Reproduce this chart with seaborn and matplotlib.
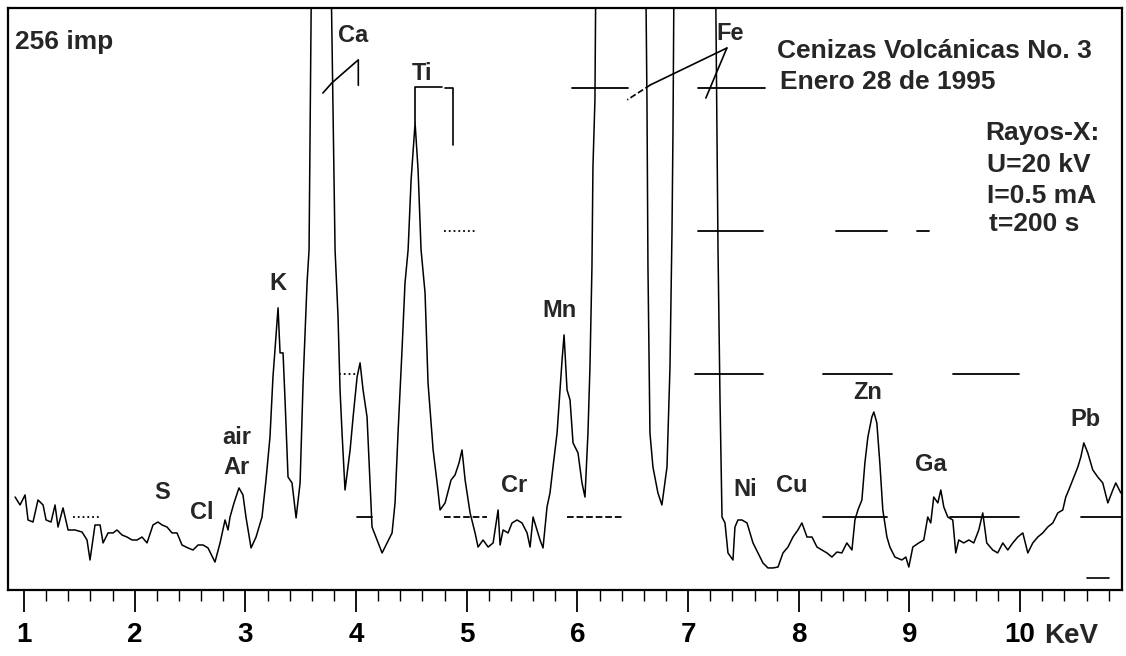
import matplotlib
matplotlib.use("Agg")
import matplotlib.pyplot as plt
from matplotlib.ticker import MultipleLocator
import pandas as pd
import seaborn as sns

# spectrum: energy (keV) and counts (0..256 full scale)
energy_kev = [
    0.919, 0.964, 1.009, 1.036, 1.081, 1.126, 1.172, 1.199, 1.244, 1.280,
    1.307, 1.352, 1.398, 1.461, 1.524, 1.569, 1.596, 1.641, 1.687, 1.714,
    1.759, 1.804, 1.840, 1.885, 1.930, 1.976, 2.021, 2.066, 2.111, 2.165,
    2.210, 2.247, 2.292, 2.337, 2.382, 2.427, 2.481, 2.527, 2.572, 2.617,
    2.662, 2.725, 2.771, 2.816, 2.843, 2.861, 2.897, 2.942, 2.978, 3.005,
    3.051, 3.096, 3.150, 3.186, 3.222, 3.249, 3.267, 3.295, 3.313, 3.340,
    3.358, 3.385, 3.421, 3.458, 3.494, 3.521, 3.557, 3.575, 3.602, 3.675,
    3.765, 3.810, 3.837, 3.855, 3.873, 3.900, 3.946, 3.973, 4.009, 4.036,
    4.063, 4.099, 4.126, 4.144, 4.190, 4.235, 4.280, 4.325, 4.352, 4.379,
    4.415, 4.442, 4.470, 4.497, 4.533, 4.560, 4.587, 4.623, 4.650, 4.696,
    4.732, 4.759, 4.804, 4.858, 4.894, 4.930, 4.957, 4.985, 5.030, 5.075,
    5.102, 5.147, 5.193, 5.238, 5.283, 5.301, 5.328, 5.373, 5.409, 5.454,
    5.499, 5.545, 5.572, 5.599, 5.635, 5.662, 5.689, 5.725, 5.752, 5.779,
    5.816, 5.843, 5.861, 5.879, 5.906, 5.933, 5.960, 6.005, 6.041, 6.068,
    6.095, 6.113, 6.131, 6.140, 6.158, 6.185, 6.294, 6.475, 6.592, 6.628,
    6.637, 6.655, 6.682, 6.727, 6.763, 6.809, 6.836, 6.854, 6.863, 6.890,
    7.062, 7.224, 7.270, 7.288, 7.306, 7.333, 7.360, 7.405, 7.423, 7.450,
    7.486, 7.532, 7.559, 7.586, 7.631, 7.676, 7.721, 7.767, 7.812, 7.857,
    7.902, 7.947, 7.992, 8.028, 8.074, 8.119, 8.164, 8.209, 8.254, 8.299,
    8.344, 8.389, 8.434, 8.480, 8.507, 8.534, 8.570, 8.597, 8.624, 8.660,
    8.678, 8.705, 8.732, 8.759, 8.796, 8.823, 8.868, 8.931, 8.967, 8.994,
    9.030, 9.084, 9.129, 9.165, 9.192, 9.219, 9.256, 9.283, 9.310, 9.346,
    9.391, 9.418, 9.445, 9.490, 9.536, 9.581, 9.626, 9.662, 9.698, 9.752,
    9.797, 9.843, 9.888, 9.933, 9.978, 10.024, 10.069, 10.114, 10.159, 10.204,
    10.249, 10.295, 10.340, 10.385, 10.412, 10.439, 10.475, 10.521, 10.548, 10.575,
    10.611, 10.656, 10.701, 10.746, 10.792, 10.837, 10.864, 10.909,
]
counts = [
    40.9, 37.4, 41.8, 30.8, 29.9, 39.6, 37.4, 30.8, 29.9, 37.4,
    27.7, 36.1, 26.4, 26.4, 25.5, 22.0, 13.2, 28.6, 28.6, 20.7,
    25.1, 25.1, 26.4, 24.2, 23.3, 22.0, 22.0, 23.3, 20.7, 28.6,
    29.9, 28.6, 27.7, 25.1, 25.1, 19.8, 18.5, 17.6, 19.8, 19.8,
    18.5, 12.3, 20.7, 30.8, 26.4, 32.1, 38.3, 44.9, 41.8, 32.1,
    18.5, 23.3, 32.1, 48.4, 67.3, 93.7, 105.6, 124.1, 104.3, 104.3,
    83.6, 49.7, 47.1, 31.7, 47.1, 91.1, 135.1, 149.6, 300, 700,
    300, 149.6, 120.1, 88.0, 69.1, 44.0, 61.6, 76.1, 93.7, 99.9,
    88.0, 76.1, 47.1, 27.7, 22.0, 16.3, 20.7, 25.1, 38.3, 69.1,
    105.6, 135.1, 149.6, 180.4, 205.4, 184.8, 149.6, 130.7, 91.1, 61.6,
    47.1, 35.2, 38.3, 48.4, 50.6, 55.9, 61.6, 48.4, 33.9, 25.1,
    18.9, 22.0, 18.9, 20.7, 35.2, 19.8, 26.4, 25.1, 29.5, 30.8,
    29.5, 25.1, 18.9, 32.1, 26.4, 22.0, 18.5, 36.5, 42.7, 54.1,
    69.1, 88.0, 101.2, 112.2, 88.0, 83.6, 64.7, 60.3, 47.1, 40.9,
    69.1, 98.1, 142.1, 186.1, 215.6, 400, 1200, 1200, 400, 215.6,
    142.1, 69.1, 54.1, 42.7, 37.4, 54.1, 98.1, 157.1, 201.0, 400,
    800, 400, 149.6, 83.6, 32.1, 29.5, 16.3, 13.2, 27.7, 30.8,
    30.8, 29.5, 25.1, 20.7, 16.3, 11.9, 9.7, 9.7, 10.1, 16.3,
    18.9, 23.3, 26.4, 29.5, 23.3, 23.3, 18.9, 17.6, 16.3, 14.5,
    16.7, 16.3, 20.7, 17.6, 30.8, 35.2, 39.6, 55.9, 67.3, 76.1,
    78.3, 73.5, 55.9, 35.2, 23.3, 18.9, 14.5, 13.2, 14.5, 10.1,
    18.9, 20.7, 22.0, 32.1, 29.5, 40.9, 38.3, 44.0, 36.5, 32.1,
    30.8, 16.3, 22.0, 20.7, 22.0, 20.7, 26.4, 33.9, 20.7, 17.6,
    16.3, 20.7, 17.6, 20.7, 23.3, 25.1, 16.3, 20.7, 23.3, 25.1,
    27.7, 29.5, 33.9, 35.2, 40.9, 44.0, 48.4, 54.1, 58.5, 64.7,
    60.3, 52.8, 49.7, 47.1, 38.3, 44.0, 47.1, 42.7,
]

tick_kev = [1, 2, 3, 4, 5, 6, 7, 8, 9, 10]
tick_labels = ["1", "2", "3", "4", "5", "6", "7", "8", "9", "10"]

# element labels: name, energy, counts
elements = ["Ca", "Ti", "Fe", "K", "air", "Ar", "S", "Cl", "Cr", "Mn", "Ni", "Cu", "Zn", "Ga", "Pb"]
element_kev = [3.97, 4.60, 7.38, 3.29, 2.92, 2.92, 2.25, 2.61, 5.43, 5.84, 7.52, 7.94, 8.62, 9.19, 10.59]
element_counts = [244, 227, 245, 135, 67, 54, 43, 34, 46, 123, 44, 46, 87, 55, 75]

# partial reference levels drawn across the scan
levels = [32, 95, 158, 221]
level_segments = {
    32: [(1.44, 1.69, ":"), (4.01, 4.14, "-"), (4.79, 5.18, "--"), (5.91, 6.41, "--"),
         (8.22, 8.80, "-"), (9.37, 9.99, "-"), (10.55, 10.92, "-")],
    95: [(3.85, 4.01, ":"), (7.06, 7.68, "-"), (8.22, 8.84, "-"), (9.39, 9.99, "-")],
    158: [(4.79, 5.09, ":"), (7.09, 7.68, "-"), (8.34, 8.80, "-"), (9.07, 9.18, "-")],
    221: [(5.95, 6.46, "-"), (7.09, 7.69, "-")],
}

sns.set_theme(style="white")
plt.rcParams["font.family"] = ["Liberation Sans", "DejaVu Sans"]

fig = plt.figure(figsize=(11.26, 6.56), dpi=100)
ax = fig.add_axes([8 / 1126, 66 / 656, 1114 / 1126, 582 / 656])

df = pd.DataFrame({"energy": energy_kev, "counts": counts})
sns.lineplot(data=df, x="energy", y="counts", ax=ax, color="black", lw=1.1,
             estimator=None, sort=False)

for lvl in levels:
    for e0, e1, ls in level_segments[lvl]:
        ax.plot([e0, e1], [lvl, lvl], color="black", lw=1.3, ls=ls)

# peak markers
ax.plot([3.70, 3.78, 4.02, 4.02], [218.6, 223, 233.2, 222], color="black", lw=1.2)
ax.plot([4.53, 4.53, 4.78], [205.4, 221.3, 221.3], color="black", lw=1.2)
ax.plot([4.80, 4.88, 4.88], [220.8, 220.8, 195.8], color="black", lw=1.2)
ax.plot([7.35, 6.66], [238.4, 222.2], color="black", lw=1.2)
ax.plot([6.66, 6.45], [222.2, 215.6], color="black", lw=1.2, ls="--")
ax.plot([7.35, 7.16], [238.4, 216.4], color="black", lw=1.2)
ax.plot([10.60, 10.80], [5.3, 5.3], color="black", lw=1.2)

for name, e, c in zip(elements, element_kev, element_counts):
    ax.text(e, c, name, fontsize=17, fontweight="bold", ha="center", va="center")

info = dict(fontsize=19, fontweight="bold", ha="left", va="center")
ax.text(0.92, 241, "256 imp", **info)
ax.text(7.80, 237, "Cenizas Volcánicas No. 3", **info)
ax.text(7.83, 223.5, "Enero 28 de 1995", **info)
ax.text(9.68, 201, "Rayos-X:", **info)
ax.text(9.70, 187, "U=20 kV", **info)
ax.text(9.70, 173.3, "I=0.5 mA", **info)
ax.text(9.72, 161, "t=200 s", **info)

ax.set_xlim(0.855, 10.92)
ax.set_ylim(0, 256)
ax.set_xticks(tick_kev)
ax.set_xticklabels(tick_labels)
ax.xaxis.set_minor_locator(MultipleLocator(0.2))
ax.set_yticks([])
ax.tick_params(axis="x", which="major", bottom=True, direction="out", length=16,
               width=1.3, pad=7, labelsize=20, colors="black")
ax.tick_params(axis="x", which="minor", bottom=True, direction="out", length=8,
               width=1.0, colors="black")
for lbl in ax.get_xticklabels():
    lbl.set_fontweight("bold")
ax.text(10.22, -0.0567, "KeV", transform=ax.get_xaxis_transform(), fontsize=20,
        fontweight="bold", ha="left", va="top")
ax.set_xlabel("")
ax.set_ylabel("")
for sp in ax.spines.values():
    sp.set_visible(True)
    sp.set_color("black")
    sp.set_linewidth(1.6)

fig.savefig("out.png", dpi=100)
